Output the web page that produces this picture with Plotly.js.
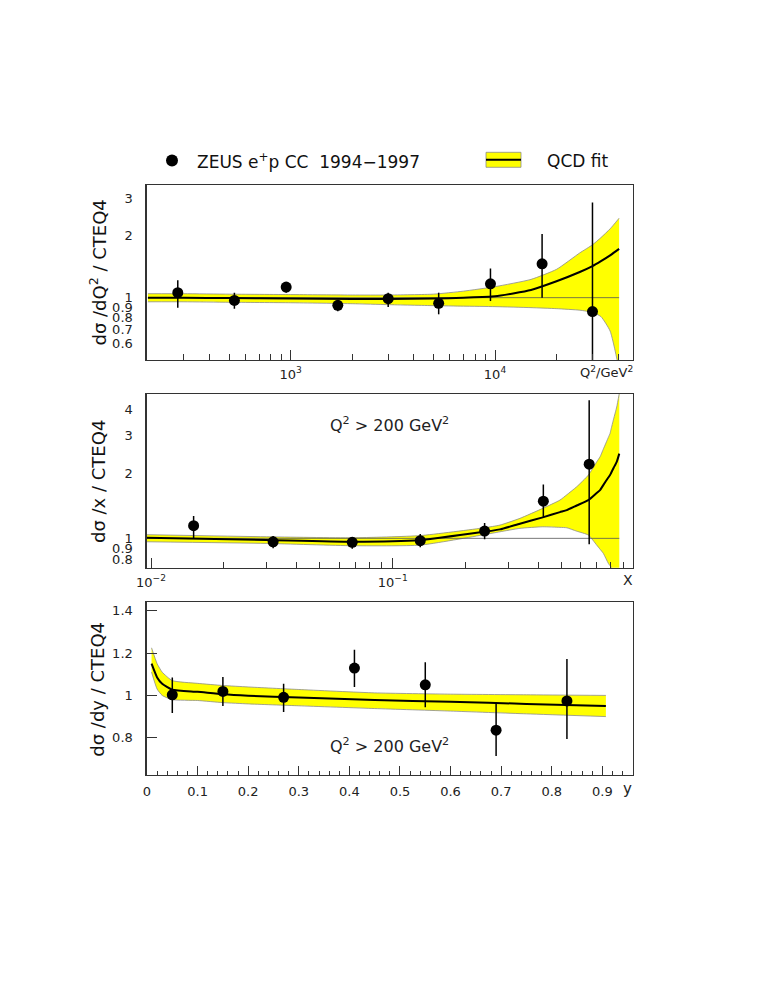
<!DOCTYPE html>
<html>
<head>
<meta charset="utf-8">
<script src="https://cdn.plot.ly/plotly-3.0.1.min.js"></script>
<style>html,body{margin:0;padding:0;background:#fff;}#chart{width:765px;height:990px;}</style>
</head>
<body>
<div id="chart"></div>
<script>
// ---------- Panel 1: dσ/dQ² ----------
const q2Points = [280, 530, 950, 1700, 3000, 5300, 9500, 17000, 30000];
const q2Ratio  = [1.057, 0.970, 1.125, 0.918, 0.989, 0.939, 1.167, 1.457, 0.857];
const q2High   = [1.215, 1.057, 1.190, 0.962, 1.057, 1.057, 1.383, 2.030, 2.880];
const q2Low    = [0.895, 0.885, 1.057, 0.860, 0.901, 0.831, 0.963, 1.000, 0.350];

const q2Fit      = [200, 300, 500, 1000, 2000, 3000, 5000, 7000, 10000, 15000, 20000, 26000, 30000, 33000, 36600, 40500];
const q2FitMid   = [1.000, 1.000, 0.995, 0.990, 0.985, 0.985, 0.990, 1.000, 1.015, 1.090, 1.200, 1.330, 1.420, 1.500, 1.600, 1.720];
const q2FitUp    = [1.045, 1.045, 1.040, 1.035, 1.030, 1.030, 1.040, 1.075, 1.130, 1.225, 1.370, 1.645, 1.800, 1.950, 2.150, 2.420];
const q2FitDown  = [0.955, 0.955, 0.950, 0.945, 0.935, 0.925, 0.915, 0.910, 0.905, 0.895, 0.885, 0.870, 0.850, 0.810, 0.690, 0.450];

// ---------- Panel 2: dσ/dx ----------
const xPoints = [0.015, 0.032, 0.068, 0.13, 0.24, 0.42, 0.65];
const xRatio  = [1.145, 0.964, 0.958, 0.975, 1.081, 1.490, 2.215];
const xHigh   = [1.270, 1.025, 1.006, 1.047, 1.180, 1.780, 4.400];
const xLow    = [1.000, 0.900, 0.895, 0.908, 0.990, 1.247, 0.938];

const xFit     = [0.0096, 0.03, 0.068, 0.13, 0.239, 0.278, 0.336, 0.4175, 0.492, 0.525, 0.577, 0.645, 0.698, 0.721, 0.7435, 0.78, 0.793, 0.8, 0.82, 0.845, 0.866];
const xFitMid  = [1.006, 0.982, 0.964, 0.982, 1.073, 1.101, 1.170, 1.252, 1.325, 1.354, 1.422, 1.507, 1.627, 1.678, 1.770, 1.920, 1.970, 2.010, 2.127, 2.270, 2.480];
const xFitUp   = [1.040, 1.017, 1.006, 1.030, 1.120, 1.153, 1.239, 1.379, 1.507, 1.595, 1.738, 1.970, 2.268, 2.396, 2.600, 2.950, 3.080, 3.210, 3.590, 4.090, 4.730];
const xFitDown = [0.964, 0.947, 0.924, 0.930, 1.040, 1.073, 1.113, 1.132, 1.125, 1.120, 1.080, 1.036, 0.931, 0.890, 0.852, 0.765, 0.745, 0.738, 0.600, 0.550, 0.500];

// ---------- Panel 3: dσ/dy ----------
const yPoints = [0.05, 0.15, 0.27, 0.41, 0.55, 0.69, 0.83];
const yRatio  = [1.003, 1.019, 0.991, 1.129, 1.050, 0.836, 0.974];
const yHigh   = [1.085, 1.087, 1.055, 1.216, 1.157, 0.967, 1.172];
const yLow    = [0.917, 0.950, 0.922, 1.040, 0.944, 0.714, 0.794];

const yFit     = [0.009, 0.02, 0.03, 0.05, 0.1, 0.15, 0.2, 0.3, 0.45, 0.6, 0.75, 0.907];
const yFitMid  = [1.150, 1.085, 1.055, 1.027, 1.017, 1.005, 0.998, 0.990, 0.978, 0.970, 0.960, 0.950];
const yFitUp   = [1.225, 1.150, 1.110, 1.070, 1.057, 1.047, 1.040, 1.028, 1.012, 1.006, 1.003, 1.000];
const yFitDown = [1.110, 1.030, 1.000, 0.980, 0.976, 0.966, 0.960, 0.951, 0.938, 0.926, 0.913, 0.900];

// ---------- tick labels ----------
const p1XTicks = [1000, 10000];
const p1XText  = ['10<sup>3</sup>', '10<sup>4</sup>'];
const p1XMinor = [300,400,500,600,700,800,900,2000,3000,4000,5000,6000,7000,8000,9000,20000,30000,40000];
const p1YTicks = [0.6, 0.7, 0.8, 0.9, 1, 2, 3];
const p1YText  = ['0.6','0.7','0.8','0.9','1','2','3'];

const p2XTicks = [0.01, 0.1];
const p2XText  = ['10<sup>−2</sup>', '10<sup>−1</sup>'];
const p2XMinor = [0.02,0.03,0.04,0.05,0.06,0.07,0.08,0.09,0.2,0.3,0.4,0.5,0.6,0.7,0.8,0.9];
const p2YTicks = [0.8, 0.9, 1, 2, 3, 4];
const p2YText  = ['0.8','0.9','1','2','3','4'];

const p3YTicks = [0.8, 1, 1.2, 1.4];
const p3YText  = ['0.8','1','1.2','1.4'];

// ---------- helpers ----------
const W = 765, H = 990;
const px = v => v / W;
const py = v => 1 - v / H;
const diff = (a, b) => a.map((v, i) => v - b[i]);

const YELLOW = '#ffff00';
const EDGE = '#8c8c8c';

function panel(xs, mid, up, down, pts, vals, hi, lo, xa, ya, unityLine) {
  const tr = [];
  tr.push({x: xs, y: down, xaxis: xa, yaxis: ya, mode: 'lines', line: {color: EDGE, width: 0.8, shape: 'spline', smoothing: 0.5}, hoverinfo: 'skip', showlegend: false});
  tr.push({x: xs, y: up, xaxis: xa, yaxis: ya, mode: 'lines', fill: 'tonexty', fillcolor: YELLOW, line: {color: EDGE, width: 0.8, shape: 'spline', smoothing: 0.5}, hoverinfo: 'skip', showlegend: false});
  if (unityLine) {
    tr.push({x: [xs[0], xs[xs.length - 1]], y: [1, 1], xaxis: xa, yaxis: ya, mode: 'lines', line: {color: '#555', width: 0.8}, hoverinfo: 'skip', showlegend: false});
  }
  tr.push({x: xs, y: mid, xaxis: xa, yaxis: ya, mode: 'lines', line: {color: '#000', width: 2, shape: 'spline', smoothing: 0.5}, hoverinfo: 'skip', showlegend: false});
  tr.push({x: pts, y: vals, xaxis: xa, yaxis: ya, mode: 'markers',
    marker: {color: '#000', size: 11},
    error_y: {type: 'data', symmetric: false, array: diff(hi, vals), arrayminus: diff(vals, lo), width: 0, thickness: 1.5, color: '#000'},
    showlegend: false});
  return tr;
}

const traces = [].concat(
  panel(q2Fit, q2FitMid, q2FitUp, q2FitDown, q2Points, q2Ratio, q2High, q2Low, 'x', 'y', true),
  panel(xFit, xFitMid, xFitUp, xFitDown, xPoints, xRatio, xHigh, xLow, 'x2', 'y2', true),
  panel(yFit, yFitMid, yFitUp, yFitDown, yPoints, yRatio, yHigh, yLow, 'x3', 'y3', false)
);

const FONT = 'DejaVu Sans, Liberation Sans, Arial, sans-serif';
const tickFont = {family: FONT, size: 13, color: '#222'};
const xDom = [px(146.7), px(632.7)];
const frame = {showline: true, mirror: true, linecolor: '#333', linewidth: 1.3, showgrid: false, zeroline: false, tickfont: tickFont};
const NB = '\u00a0';

const layout = {
  width: W, height: H,
  margin: {l: 0, r: 0, t: 0, b: 0},
  paper_bgcolor: '#fff', plot_bgcolor: '#fff',
  showlegend: false,
  font: {family: FONT, color: '#222'},
  xaxis: Object.assign({}, frame, {domain: xDom, anchor: 'y', type: 'log', range: [2.295, 4.674],
    tickmode: 'array', tickvals: p1XTicks, ticktext: p1XText, ticks: 'inside', ticklen: 10, tickcolor: '#333',
    ticklabelstandoff: 2,
    minor: {tickmode: 'array', tickvals: p1XMinor, ticks: 'inside', ticklen: 6, tickcolor: '#333'}}),
  yaxis: Object.assign({}, frame, {domain: [py(360), py(185)], anchor: 'x', type: 'log', range: [Math.log10(0.5), Math.log10(3.5)],
    tickmode: 'array', tickvals: p1YTicks, ticktext: p1YText, ticks: '', ticklabelstandoff: 10}),
  xaxis2: Object.assign({}, frame, {domain: xDom, anchor: 'y2', type: 'log', range: [-2.018, -0.007],
    tickmode: 'array', tickvals: p2XTicks, ticktext: p2XText, ticks: 'inside', ticklen: 10, tickcolor: '#333',
    ticklabelstandoff: 2,
    minor: {tickmode: 'array', tickvals: p2XMinor, ticks: 'inside', ticklen: 6, tickcolor: '#333'}}),
  yaxis2: Object.assign({}, frame, {domain: [py(567.7), py(394)], anchor: 'x2', type: 'log', range: [Math.log10(0.73), Math.log10(4.7)],
    tickmode: 'array', tickvals: p2YTicks, ticktext: p2YText, ticks: '', ticklabelstandoff: 10}),
  xaxis3: Object.assign({}, frame, {domain: xDom, anchor: 'y3', range: [-0.0006, 0.96],
    tickmode: 'linear', tick0: 0, dtick: 0.1, ticks: 'inside', ticklen: 9, tickcolor: '#333', ticklabelstandoff: 4,
    minor: {tick0: 0, dtick: 0.02, ticks: 'inside', ticklen: 4, tickcolor: '#333'}}),
  yaxis3: Object.assign({}, frame, {domain: [py(775), py(602.3)], anchor: 'x3', range: [0.624, 1.44],
    tickmode: 'array', tickvals: p3YTicks, ticktext: p3YText, ticks: 'inside', ticklen: 10, tickcolor: '#333', ticklabelstandoff: 10}),
  shapes: [
    {type: 'circle', xref: 'paper', yref: 'paper', x0: px(166), x1: px(178), y0: py(166.5), y1: py(154.5), fillcolor: '#000', line: {color: '#000', width: 0}},
    {type: 'rect', xref: 'paper', yref: 'paper', x0: px(486), x1: px(521), y0: py(167.3), y1: py(152.3), fillcolor: YELLOW, line: {color: EDGE, width: 0.8}},
    {type: 'line', xref: 'paper', yref: 'paper', x0: px(486), x1: px(521), y0: py(159.8), y1: py(159.8), line: {color: '#000', width: 2}}
  ],
  annotations: [
    {xref: 'paper', yref: 'paper', x: px(195), y: py(160.5), xanchor: 'left', yanchor: 'middle', showarrow: false,
      text: 'ZEUS e<sup>+</sup>p CC' + NB + NB + '1994−1997', font: {family: FONT, size: 17, color: '#111'}},
    {xref: 'paper', yref: 'paper', x: px(545), y: py(160.5), xanchor: 'left', yanchor: 'middle', showarrow: false,
      text: 'QCD fit', font: {family: FONT, size: 17, color: '#111'}},
    {xref: 'paper', yref: 'paper', x: px(98), y: py(272.5), xanchor: 'center', yanchor: 'middle', textangle: -90, showarrow: false,
      text: 'dσ' + NB + '/dQ<sup>2</sup> / CTEQ4', font: {family: FONT, size: 18, color: '#111'}},
    {xref: 'paper', yref: 'paper', x: px(98), y: py(481), xanchor: 'center', yanchor: 'middle', textangle: -90, showarrow: false,
      text: 'dσ' + NB + '/x / CTEQ4', font: {family: FONT, size: 18, color: '#111'}},
    {xref: 'paper', yref: 'paper', x: px(98), y: py(688.7), xanchor: 'center', yanchor: 'middle', textangle: -90, showarrow: false,
      text: 'dσ' + NB + '/dy / CTEQ4', font: {family: FONT, size: 18, color: '#111'}},
    {xref: 'paper', yref: 'paper', x: px(635), y: py(372), xanchor: 'right', yanchor: 'middle', showarrow: false,
      text: 'Q<sup>2</sup>/GeV<sup>2</sup>', font: {family: FONT, size: 13, color: '#222'}},
    {xref: 'paper', yref: 'paper', x: px(628), y: py(580), xanchor: 'center', yanchor: 'middle', showarrow: false,
      text: 'X', font: {family: FONT, size: 14, color: '#222'}},
    {xref: 'paper', yref: 'paper', x: px(627), y: py(789), xanchor: 'center', yanchor: 'middle', showarrow: false,
      text: 'y', font: {family: FONT, size: 15, color: '#222'}},
    {xref: 'paper', yref: 'paper', x: px(389), y: py(424), xanchor: 'center', yanchor: 'middle', showarrow: false,
      text: 'Q<sup>2</sup> > 200 GeV<sup>2</sup>', font: {family: FONT, size: 16, color: '#222'}},
    {xref: 'paper', yref: 'paper', x: px(389), y: py(745), xanchor: 'center', yanchor: 'middle', showarrow: false,
      text: 'Q<sup>2</sup> > 200 GeV<sup>2</sup>', font: {family: FONT, size: 16, color: '#222'}}
  ]
};

Plotly.newPlot('chart', traces, layout, {staticPlot: true, displayModeBar: false});
</script>
</body>
</html>
